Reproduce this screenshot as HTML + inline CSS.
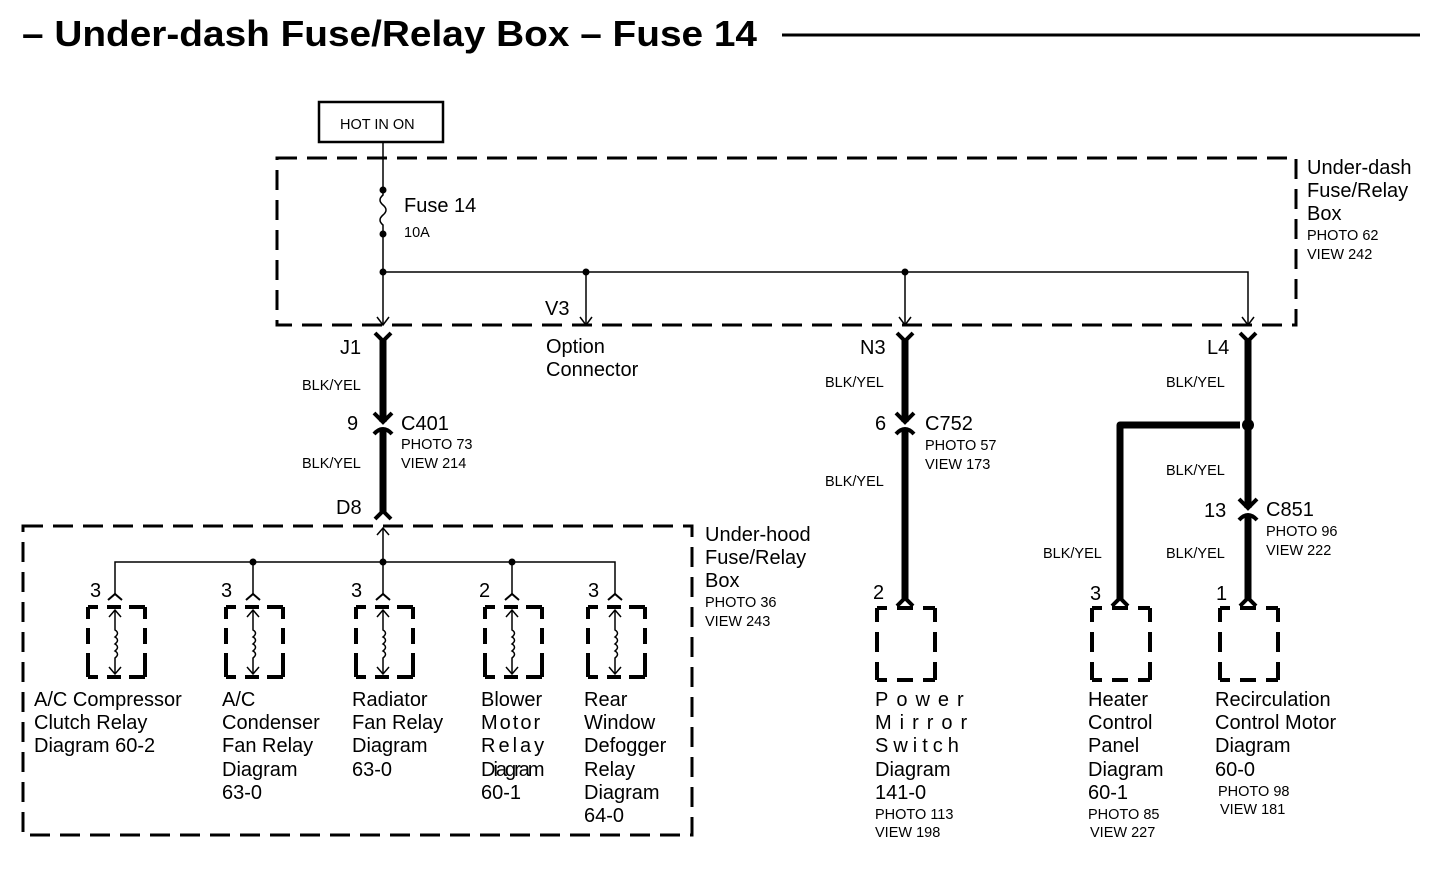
<!DOCTYPE html>
<html><head><meta charset="utf-8"><style>
html,body{margin:0;padding:0;background:#fff;}
svg{display:block;font-family:"Liberation Sans",Arial,sans-serif;}
.l{font-size:20px;}
.s{font-size:14.5px;}
</style></head><body>
<svg width="1456" height="870" viewBox="0 0 1456 870" xmlns="http://www.w3.org/2000/svg">
<defs>
<g id="relay">
  <path d="M-27,607 h10 M-8,607 h14 M14,607 h16 M-27,677 h10 M-8,677 h14 M14,677 h16 M-27,607 v12 M-27,628 v16 M-27,653 v24 M30,607 v12 M30,628 v16 M30,653 v24" stroke="#000" stroke-width="4" fill="none"/>
  <path d="M0,610 v20 q5,3 0,7 q5,3 0,7 q5,3 0,7 q5,3 0,7 v16" stroke="#000" stroke-width="1.5" fill="none"/>
  <path d="M-6,617 L0,610 L6,617 M-6,667 L0,674 L6,667" stroke="#000" stroke-width="1.5" fill="none"/>
  <path d="M-7,600 L0,594 L7,600" stroke="#000" stroke-width="2" fill="none"/>
</g>
<g id="inl">
  <path d="M-9,-12 L0,-3 L9,-12" stroke="#000" stroke-width="4" fill="none"/>
  <path d="M-9,9 Q0,-1 9,9" stroke="#000" stroke-width="4" fill="none"/>
</g>
<g id="box">
  <path d="M-28,0 h10 M-8,0 h16 M18,0 h12 M-28,72 h10 M-8,72 h16 M18,72 h12 M-28,0 v14 M-28,24 v20 M-28,54 v18 M30,0 v14 M30,24 v20 M30,54 v18" stroke="#000" stroke-width="4" fill="none"/>
</g>
</defs>

<text x="22" y="46" font-size="36" font-weight="bold" textLength="735" lengthAdjust="spacingAndGlyphs">– Under-dash Fuse/Relay Box – Fuse 14</text>
<line x1="782" y1="35" x2="1420" y2="35" stroke="#000" stroke-width="3"/>

<rect x="319" y="102" width="124" height="40" fill="none" stroke="#000" stroke-width="2.5"/>
<text x="340" y="129" class="s">HOT IN ON</text>

<rect x="277" y="158" width="1019" height="167" fill="none" stroke="#000" stroke-width="3" stroke-dasharray="20,10"/>
<text x="1307" y="174" class="l">Under-dash</text>
<text x="1307" y="197" class="l">Fuse/Relay</text>
<text x="1307" y="220" class="l">Box</text>
<text x="1307" y="240" class="s">PHOTO 62</text>
<text x="1307" y="259" class="s">VIEW 242</text>

<g stroke="#000" stroke-width="1.5" fill="none">
  <path d="M383,142 V195 q-6,5 0,10 q6,5 0,10 q-6,5 0,10 V325"/>
  <path d="M383,272 H1248 V325 M586,272 V325 M905,272 V325"/>
  <path d="M377,317 L383,325 L389,317 M580,317 L586,325 L592,317 M899,317 L905,325 L911,317 M1242,317 L1248,325 L1254,317"/>
</g>
<g fill="#000">
  <circle cx="383" cy="190" r="3.5"/><circle cx="383" cy="234" r="3.5"/><circle cx="383" cy="272" r="3.5"/>
  <circle cx="586" cy="272" r="3.5"/><circle cx="905" cy="272" r="3.5"/>
</g>
<text x="404" y="212" class="l">Fuse 14</text>
<text x="404" y="237" class="s">10A</text>
<text x="545" y="315" class="l">V3</text>
<text x="546" y="353" class="l">Option</text>
<text x="546" y="376" class="l">Connector</text>

<!-- J1 column -->
<path d="M375,333 L383,341 L391,333 M375,519 L383,511 L391,519" stroke="#000" stroke-width="4" fill="none"/>
<line x1="383" y1="340" x2="383" y2="422" stroke="#000" stroke-width="7"/>
<line x1="383" y1="428" x2="383" y2="512" stroke="#000" stroke-width="7"/>
<use href="#inl" x="383" y="425"/>
<text x="340" y="354" class="l">J1</text>
<text x="302" y="390" class="s">BLK/YEL</text>
<text x="347" y="430" class="l">9</text>
<text x="401" y="430" class="l">C401</text>
<text x="401" y="449" class="s">PHOTO 73</text>
<text x="401" y="468" class="s">VIEW 214</text>
<text x="302" y="468" class="s">BLK/YEL</text>
<text x="336" y="514" class="l">D8</text>

<rect x="23" y="526" width="669" height="309" fill="none" stroke="#000" stroke-width="3" stroke-dasharray="20,10"/>
<text x="705" y="541" class="l">Under-hood</text>
<text x="705" y="564" class="l">Fuse/Relay</text>
<text x="705" y="587" class="l">Box</text>
<text x="705" y="607" class="s">PHOTO 36</text>
<text x="705" y="626" class="s">VIEW 243</text>

<g stroke="#000" stroke-width="1.5" fill="none">
  <path d="M383,528 V562 M115,594 V562 H615 V594 M253,562 V594 M383,562 V594 M512,562 V594"/>
  <path d="M377,535 L383,528 L389,535"/>
</g>
<g fill="#000"><circle cx="253" cy="562" r="3.5"/><circle cx="383" cy="562" r="3.5"/><circle cx="512" cy="562" r="3.5"/></g>
<use href="#relay" x="115"/><use href="#relay" x="253"/><use href="#relay" x="383"/><use href="#relay" x="512"/><use href="#relay" x="615"/>
<text x="90" y="597" class="l">3</text>
<text x="221" y="597" class="l">3</text>
<text x="351" y="597" class="l">3</text>
<text x="479" y="597" class="l">2</text>
<text x="588" y="597" class="l">3</text>

<g class="l">
<text x="34" y="706">A/C Compressor</text><text x="34" y="729">Clutch Relay</text><text x="34" y="752">Diagram 60-2</text>
<text x="222" y="706">A/C</text><text x="222" y="729">Condenser</text><text x="222" y="752">Fan Relay</text><text x="222" y="776">Diagram</text><text x="222" y="799">63-0</text>
<text x="352" y="706">Radiator</text><text x="352" y="729">Fan Relay</text><text x="352" y="752">Diagram</text><text x="352" y="776">63-0</text>
<text x="481" y="706">Blower</text><text x="481" y="729" letter-spacing="2">Motor</text><text x="481" y="752" letter-spacing="3">Relay</text><text x="481" y="776" letter-spacing="-2">Diagram</text><text x="481" y="799">60-1</text>
<text x="584" y="706">Rear</text><text x="584" y="729">Window</text><text x="584" y="752">Defogger</text><text x="584" y="776">Relay</text><text x="584" y="799">Diagram</text><text x="584" y="822">64-0</text>
</g>

<!-- N3 column -->
<path d="M897,333 L905,341 L913,333 M897,606 L905,598 L913,606" stroke="#000" stroke-width="4" fill="none"/>
<line x1="905" y1="340" x2="905" y2="422" stroke="#000" stroke-width="7"/>
<line x1="905" y1="428" x2="905" y2="599" stroke="#000" stroke-width="7"/>
<use href="#inl" x="905" y="425"/>
<text x="860" y="354" class="l">N3</text>
<text x="825" y="387" class="s">BLK/YEL</text>
<text x="875" y="430" class="l">6</text>
<text x="925" y="430" class="l">C752</text>
<text x="925" y="450" class="s">PHOTO 57</text>
<text x="925" y="469" class="s">VIEW 173</text>
<text x="825" y="486" class="s">BLK/YEL</text>
<text x="873" y="599" class="l">2</text>
<use href="#box" x="905" y="608"/>
<g class="l">
<text x="875" y="706" letter-spacing="8">Power</text><text x="875" y="729" letter-spacing="8">Mirror</text><text x="875" y="752" letter-spacing="5">Switch</text><text x="875" y="776">Diagram</text><text x="875" y="799">141-0</text>
</g>
<text x="875" y="819" class="s">PHOTO 113</text>
<text x="875" y="837" class="s">VIEW 198</text>

<!-- L4 column -->
<path d="M1240,333 L1248,341 L1256,333 M1240,606 L1248,598 L1256,606 M1112,606 L1120,598 L1128,606" stroke="#000" stroke-width="4" fill="none"/>
<line x1="1248" y1="340" x2="1248" y2="508" stroke="#000" stroke-width="7"/>
<line x1="1248" y1="514" x2="1248" y2="599" stroke="#000" stroke-width="7"/>
<path d="M1240,425 H1120 V599" stroke="#000" stroke-width="7" fill="none" stroke-linejoin="round"/>
<circle cx="1248" cy="425" r="6" fill="#000"/>
<use href="#inl" x="1248" y="511"/>
<text x="1207" y="354" class="l">L4</text>
<text x="1166" y="387" class="s">BLK/YEL</text>
<text x="1166" y="475" class="s">BLK/YEL</text>
<text x="1204" y="517" class="l">13</text>
<text x="1266" y="516" class="l">C851</text>
<text x="1266" y="536" class="s">PHOTO 96</text>
<text x="1266" y="555" class="s">VIEW 222</text>
<text x="1043" y="558" class="s">BLK/YEL</text>
<text x="1166" y="558" class="s">BLK/YEL</text>
<text x="1090" y="600" class="l">3</text>
<text x="1216" y="600" class="l">1</text>
<use href="#box" x="1120" y="608"/>
<use href="#box" x="1248" y="608"/>
<g class="l">
<text x="1088" y="706">Heater</text><text x="1088" y="729">Control</text><text x="1088" y="752">Panel</text><text x="1088" y="776">Diagram</text><text x="1088" y="799">60-1</text>
<text x="1215" y="706">Recirculation</text><text x="1215" y="729">Control Motor</text><text x="1215" y="752">Diagram</text><text x="1215" y="776">60-0</text>
</g>
<text x="1088" y="819" class="s">PHOTO 85</text>
<text x="1090" y="837" class="s">VIEW 227</text>
<text x="1218" y="796" class="s">PHOTO 98</text>
<text x="1220" y="814" class="s">VIEW 181</text>
</svg>
</body></html>
